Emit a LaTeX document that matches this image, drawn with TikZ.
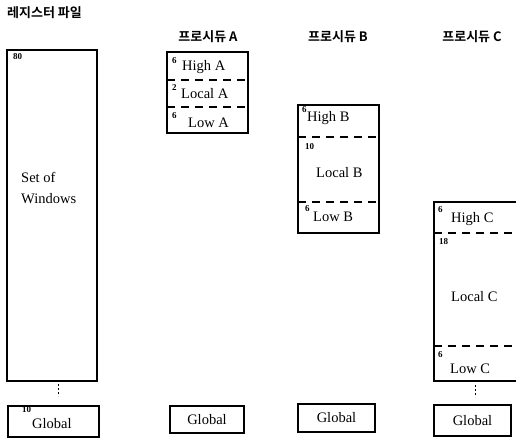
\documentclass[tikz,border=0pt]{standalone}
\usepackage{fontspec}
\setmainfont{Liberation Serif}
\newfontfamily\kofont{Noto Sans CJK KR}[BoldFont={* Bold}]
\begin{document}
\begin{tikzpicture}[x=1pt,y=-1pt,
  frame/.style={draw,line width=1.1pt,rectangle,inner sep=0pt},
  sep/.style={line width=1.1pt,dash pattern=on 8pt off 6pt},
  vdots/.style={line width=1pt,dash pattern=on 2pt off 2pt},
  title/.style={font=\kofont\bfseries\fontsize{13}{15}\selectfont,inner sep=0pt},
  lbl/.style={font=\fontsize{14.5}{17}\selectfont,inner sep=0pt,anchor=west},
  glob/.style={font=\fontsize{14.5}{17}\selectfont,inner sep=0pt},
  num/.style={font=\bfseries\fontsize{9}{10}\selectfont,inner sep=0pt,anchor=west}]
\useasboundingbox (0,0) rectangle (516,442);

% titles
\node[title,anchor=west] (t0) at (7,13) {레지스터 파일};
\node[title] (tA) at (208,37) {프로시듀 A};
\node[title] (tB) at (338,37) {프로시듀 B};
\node[title] (tC) at (472,37) {프로시듀 C};

% register file
\node[frame,minimum width=90,minimum height=331] (rf) at (52,215.5) {};
\node[num] (n80) at (13,57) {80};
\node[lbl] (s1) at (21,177) {Set of};
\node[lbl] (s2) at (21,199) {Windows};
\coordinate (d0a) at (58,384);
\coordinate (d0b) at (58,396);
\draw[vdots] (d0a) -- (d0b);
\node[frame,minimum width=91,minimum height=31] (g0) at (53.5,421.5) {};
\node[num] (n10) at (22,410) {10};
\node[lbl] (gl0) at (32,424) {Global};

% procedure A
\node[frame,minimum width=81,minimum height=81] (pA) at (207.5,92.5) {};
\coordinate (a1l) at (167,80);  \coordinate (a1r) at (248,80);
\coordinate (a2l) at (167,107); \coordinate (a2r) at (248,107);
\draw[sep] (a1l) -- (a1r);
\draw[sep] (a2l) -- (a2r);
\node[num] at (172,61) {6};
\node[lbl] (hA) at (182,67) {High A};
\node[num] at (172,88) {2};
\node[lbl] (lA) at (181,94) {Local A};
\node[num] at (172,116) {6};
\node[lbl] (wA) at (188,123) {Low A};
\node[frame,minimum width=74,minimum height=27] (gA) at (207,419.5) {};
\node[glob] at (gA) {Global};

% procedure B
\node[frame,minimum width=81,minimum height=128] (pB) at (338.5,169) {};
\coordinate (b1l) at (298,137); \coordinate (b1r) at (379,137);
\coordinate (b2l) at (298,202); \coordinate (b2r) at (379,202);
\draw[sep] (b1l) -- (b1r);
\draw[sep] (b2l) -- (b2r);
\node[num] at (302,110) {6};
\node[lbl] (hB) at (307,118) {High B};
\node[num] at (305,147) {10};
\node[lbl] (lB) at (316,173) {Local B};
\node[num] at (305,209) {6};
\node[lbl] (wB) at (313,217) {Low B};
\node[frame,minimum width=77,minimum height=28] (gB) at (336.5,418) {};
\node[glob] at (gB) {Global};

% procedure C
\node[frame,minimum width=84,minimum height=179] (pC) at (476,291.5) {};
\coordinate (c1l) at (434,233); \coordinate (c1r) at (518,233);
\coordinate (c2l) at (434,346); \coordinate (c2r) at (518,346);
\draw[sep] (c1l) -- (c1r);
\draw[sep] (c2l) -- (c2r);
\node[num] at (438,210) {6};
\node[lbl] (hC) at (451,219) {High C};
\node[num] at (439,242) {18};
\node[lbl] (lC) at (451,297) {Local C};
\node[num] at (438,355) {6};
\node[lbl] (wC) at (450,369) {Low C};
\coordinate (dCa) at (475,385);
\coordinate (dCb) at (475,397);
\draw[vdots] (dCa) -- (dCb);
\node[frame,minimum width=77,minimum height=31] (gC) at (472.5,420.5) {};
\node[glob] at (gC) {Global};
\end{tikzpicture}
\end{document}
